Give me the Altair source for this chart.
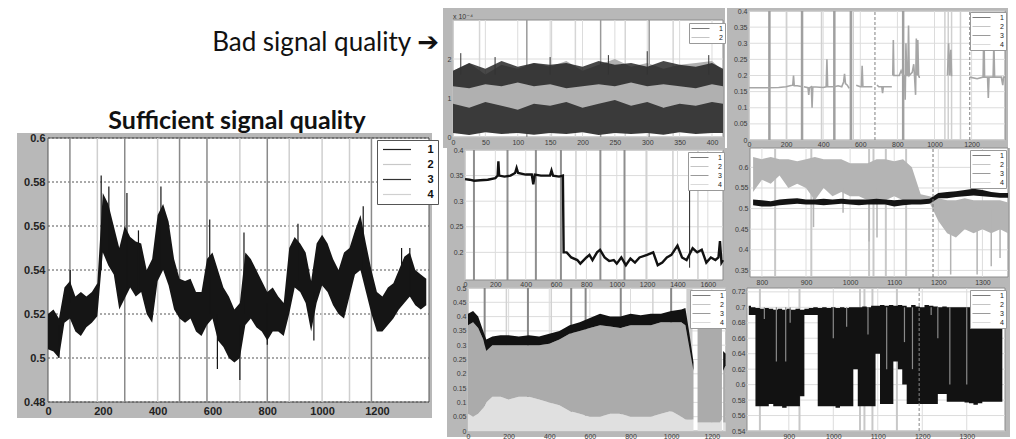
import altair as alt
import pandas as pd

AX_FONT = "Liberation Sans, Arial, DejaVu Sans"
TXT_FONT = "Lato, Open Sans, DejaVu Sans"
FRAME = "#b8b8b8"

# ================= DATA =================
# ---- Left panel: sufficient signal quality ----
L_X = list(range(0, 1381, 20))
L_LO = [0.504, 0.503, 0.500, 0.516, 0.518, 0.512, 0.510, 0.514, 0.516, 0.519,
        0.548, 0.542, 0.538, 0.522, 0.527, 0.532, 0.528, 0.530, 0.520, 0.516,
        0.535, 0.540, 0.533, 0.522, 0.518, 0.516, 0.518, 0.512, 0.510, 0.515,
        0.518, 0.508, 0.505, 0.500, 0.498, 0.500, 0.515, 0.518, 0.514, 0.512,
        0.508, 0.512, 0.512, 0.510, 0.520, 0.532, 0.530, 0.525, 0.512, 0.525,
        0.533, 0.530, 0.524, 0.520, 0.518, 0.528, 0.538, 0.540, 0.530, 0.520,
        0.512, 0.512, 0.515, 0.518, 0.522, 0.525, 0.528, 0.524, 0.522, 0.524]
L_HI = [0.520, 0.522, 0.518, 0.532, 0.535, 0.528, 0.530, 0.528, 0.530, 0.534,
        0.575, 0.570, 0.560, 0.550, 0.560, 0.555, 0.553, 0.552, 0.540, 0.545,
        0.565, 0.570, 0.562, 0.545, 0.536, 0.535, 0.536, 0.530, 0.530, 0.545,
        0.548, 0.540, 0.532, 0.528, 0.522, 0.525, 0.548, 0.545, 0.540, 0.535,
        0.530, 0.532, 0.528, 0.525, 0.550, 0.555, 0.552, 0.548, 0.535, 0.552,
        0.556, 0.552, 0.545, 0.540, 0.548, 0.550, 0.558, 0.565, 0.552, 0.540,
        0.530, 0.528, 0.532, 0.534, 0.540, 0.546, 0.548, 0.540, 0.538, 0.536]
L_SPK_X = [40, 81, 194, 222, 288, 330, 412, 590, 618, 700, 715, 800, 912, 970, 1150, 1290, 1320]
L_SPK_LO = [0.500, 0.525, 0.540, 0.545, 0.530, 0.530, 0.540, 0.520, 0.495, 0.490, 0.520, 0.506,
            0.535, 0.508, 0.540, 0.525, 0.528]
L_SPK_HI = [0.515, 0.540, 0.583, 0.578, 0.575, 0.558, 0.578, 0.563, 0.520, 0.515, 0.557, 0.525,
            0.561, 0.530, 0.569, 0.550, 0.550]
L_EV_DARK = [80, 280, 480, 580, 800, 1180]
L_EV_LIGHT = [180, 400, 700, 880, 1000, 1100]
L_XTICKS = [0, 200, 400, 600, 800, 1000, 1200]
L_YTICKS = [0.48, 0.5, 0.52, 0.54, 0.56, 0.58, 0.6]

# ---- P1 (x 10^-4) ----
P1_X = [0, 25, 50, 75, 100, 125, 150, 175, 200, 225, 250, 275, 300, 325, 350, 375, 400, 417]
P1_DARK_LO = [0.1, 0.05, 0.12, 0.08, 0.1, 0.06, 0.1, 0.08, 0.12, 0.05, 0.1, 0.08, 0.1, 0.06, 0.12, 0.08, 0.1, 0.1]
P1_DARK_HI = [0.85, 0.75, 0.9, 0.8, 0.7, 0.85, 0.8, 0.9, 0.75, 0.85, 0.95, 0.8, 0.9, 0.75, 0.85, 0.8, 0.9, 0.85]
P1_LIGHT_LO = [0.6, 0.7, 0.55, 0.75, 0.65, 0.7, 0.6, 0.75, 0.7, 0.65, 0.8, 0.7, 0.6, 0.75, 0.7, 0.65, 0.7, 0.75]
P1_LIGHT_HI = [1.7, 1.9, 1.6, 1.85, 1.75, 1.9, 1.8, 1.95, 1.7, 1.85, 2.0, 1.8, 1.9, 1.75, 1.85, 1.9, 1.95, 1.7]
P1_BLACK_LO = [1.3, 1.25, 1.35, 1.3, 1.4, 1.3, 1.35, 1.25, 1.3, 1.35, 1.3, 1.4, 1.3, 1.35, 1.3, 1.25, 1.35, 1.3]
P1_BLACK_HI = [1.7, 1.9, 1.75, 1.95, 1.8, 1.9, 1.85, 1.9, 1.8, 1.95, 1.85, 1.9, 1.8, 1.95, 1.85, 1.8, 1.9, 1.75]
P1_SPK_X = [12, 65, 150, 240, 300, 395]
P1_SPK_LO = [1.6, 1.6, 1.6, 1.6, 1.6, 1.6]
P1_SPK_HI = [2.15, 2.05, 2.05, 2.1, 2.2, 2.1]
P1_EV_DARK = [114, 228, 303]
P1_EV_LIGHT = [41, 152, 189, 266, 340]
P1_XTICKS = [0, 50, 100, 150, 200, 250, 300, 350, 400]
P1_YTICKS = [0, 1, 2]

# ---- P2 ----
P2_SEG = (["a"] * 10 + ["b"] * 19 + ["c"] * 6 + ["d"] * 6 + ["e"] * 24 + ["f"] * 6 + ["g"] * 15)
P2_X = [0, 100, 160, 200, 220, 236, 240, 244, 260, 288,
        296, 318, 322, 326, 336, 340, 344, 400, 416, 420, 424, 460, 480, 500, 510, 515, 520, 530, 540,
        578, 600, 606, 610, 614, 665,
        690, 700, 716, 720, 724, 770,
        775, 778, 781, 784, 810, 820, 830, 838, 842, 846, 850, 856, 860, 864, 880, 888, 892, 898, 902,
        906, 910, 914, 918, 922,
        1070, 1076, 1082, 1088, 1092, 1096,
        1190, 1230, 1262, 1266, 1270, 1286, 1290, 1294, 1316, 1320, 1324, 1360, 1368, 1372, 1380]
P2_Y = [0.162, 0.162, 0.163, 0.165, 0.168, 0.17, 0.2, 0.168, 0.168, 0.165,
        0.165, 0.162, 0.14, 0.162, 0.165, 0.1, 0.165, 0.163, 0.165, 0.25, 0.165, 0.165, 0.168, 0.165,
        0.18, 0.205, 0.175, 0.17, 0.16,
        0.17, 0.165, 0.165, 0.23, 0.165, 0.165,
        0.17, 0.165, 0.165, 0.145, 0.165, 0.165,
        0.2, 0.31, 0.2, 0.2, 0.2, 0.215, 0.2, 0.2, 0.125, 0.3, 0.2, 0.2, 0.355, 0.2, 0.21, 0.235, 0.2,
        0.14, 0.315, 0.2, 0.31, 0.2, 0.195, 0.195,
        0.2, 0.3, 0.2, 0.28, 0.2, 0.2,
        0.195, 0.19, 0.195, 0.36, 0.195, 0.195, 0.13, 0.195, 0.195, 0.3, 0.195, 0.195, 0.17, 0.195, 0.195]
P2_EV_DARK = [110, 286, 460, 549, 831]
P2_EV_LIGHT = [203, 391, 562, 1056, 1074, 1092, 1140]
P2_EV_DASH = [679, 1190]
P2_XTICKS = [0, 200, 400, 600, 800, 1000, 1200]
P2_YTICKS = [0, 0.05, 0.1, 0.15, 0.2, 0.25, 0.3, 0.35, 0.4]

# ---- P3 ----
P3_X = [0, 30, 60, 100, 150, 200, 215, 220, 225, 260, 300, 330, 340, 350, 400, 440, 450, 460, 500,
        560, 570, 580, 620, 645, 650, 670, 700, 740, 760, 800, 820, 840, 870, 890, 920, 950, 980,
        1000, 1030, 1060, 1090, 1120, 1150, 1200, 1240, 1270, 1300, 1330, 1360, 1400, 1430, 1460,
        1500, 1530, 1560, 1590, 1620, 1650, 1670, 1680, 1690, 1700]
P3_Y = [0.343, 0.342, 0.34, 0.341, 0.342, 0.345, 0.35, 0.378, 0.35, 0.348, 0.35, 0.355, 0.365,
        0.355, 0.352, 0.352, 0.333, 0.352, 0.35, 0.35, 0.36, 0.35, 0.348, 0.35, 0.2, 0.2, 0.19,
        0.185, 0.178, 0.19, 0.195, 0.185, 0.2, 0.205, 0.19, 0.183, 0.185, 0.178, 0.19, 0.175, 0.188,
        0.18, 0.19, 0.195, 0.2, 0.175, 0.18, 0.19, 0.195, 0.213, 0.19, 0.185, 0.208, 0.2, 0.205,
        0.18, 0.19, 0.185, 0.19, 0.222, 0.18, 0.185]
P3_EV_DARK = [59, 280, 467, 632, 892, 1051]
P3_EV_LIGHT = [731, 1194, 1370, 1535]
P3_SPK_X = [1480]
P3_SPK_LO = [0.17]
P3_SPK_HI = [0.34]
P3_XTICKS = [0, 200, 400, 600, 800, 1000, 1200, 1400, 1600]
P3_YTICKS = [0.2, 0.25, 0.3, 0.35, 0.4]

# ---- P4 ----
P4_X = [780, 800, 820, 840, 860, 880, 900, 920, 940, 960, 980, 1000, 1020, 1040, 1060, 1080, 1100,
        1120, 1140, 1160, 1180, 1200, 1220, 1240, 1260, 1280, 1300, 1320, 1340, 1358]
P4_GRAY_LO = [0.54, 0.57, 0.56, 0.58, 0.55, 0.56, 0.55, 0.52, 0.55, 0.53, 0.54, 0.53, 0.53, 0.52,
              0.52, 0.52, 0.53, 0.52, 0.52, 0.515, 0.515, 0.47, 0.44, 0.43, 0.45, 0.44, 0.45, 0.44,
              0.45, 0.44]
P4_GRAY_HI = [0.625, 0.62, 0.625, 0.62, 0.62, 0.615, 0.62, 0.625, 0.62, 0.62, 0.62, 0.61, 0.61,
              0.61, 0.62, 0.62, 0.615, 0.62, 0.6, 0.535, 0.53, 0.525, 0.52, 0.52, 0.525, 0.52, 0.52,
              0.52, 0.52, 0.515]
P4_BLACK_LO = [0.508, 0.505, 0.505, 0.508, 0.51, 0.512, 0.51, 0.51, 0.508, 0.51, 0.512, 0.51, 0.508,
               0.51, 0.51, 0.51, 0.505, 0.508, 0.51, 0.51, 0.512, 0.525, 0.525, 0.528, 0.53, 0.532,
               0.53, 0.528, 0.526, 0.526]
P4_BLACK_HI = [0.522, 0.52, 0.518, 0.522, 0.524, 0.525, 0.522, 0.522, 0.524, 0.522, 0.524, 0.522,
               0.522, 0.522, 0.524, 0.522, 0.52, 0.522, 0.522, 0.522, 0.524, 0.538, 0.54, 0.542,
               0.545, 0.548, 0.545, 0.54, 0.538, 0.538]
P4_DIP_X = [917, 984, 1043, 1061, 1228, 1288, 1320, 1340]
P4_DIP_TOP = [0.55, 0.55, 0.55, 0.55, 0.5, 0.5, 0.5, 0.5]
P4_DIP_BOT = [0.455, 0.49, 0.42, 0.43, 0.34, 0.34, 0.36, 0.38]
P4_EV_LIGHT = [830, 912, 1043, 1053, 1081, 1127]
P4_EV_DASH = [1188]
P4_XTICKS = [800, 900, 1000, 1100, 1200, 1300]
P4_YTICKS = [0.35, 0.4, 0.45, 0.5, 0.55, 0.6]

# ---- P5 ----
P5_SEG = ["a"] * 28 + ["b"] * 5 + ["c"] * 2
P5_X = [0, 25, 50, 75, 90, 120, 160, 200, 250, 300, 350, 400, 450, 500, 550, 600, 650, 700, 750,
        800, 850, 900, 950, 1000, 1050, 1070, 1090, 1110,
        1130, 1160, 1200, 1240, 1250,
        1256, 1268]
P5_BLACK_LO = [0.37, 0.38, 0.36, 0.32, 0.28, 0.30, 0.30, 0.30, 0.30, 0.30, 0.30, 0.305, 0.32, 0.34,
               0.35, 0.36, 0.37, 0.365, 0.36, 0.37, 0.37, 0.37, 0.38, 0.38, 0.38, 0.37, 0.29, 0.21,
               0.39, 0.395, 0.395, 0.40, 0.40,
               0.21, 0.23]
P5_BLACK_HI = [0.41, 0.42, 0.40, 0.35, 0.32, 0.33, 0.335, 0.335, 0.33, 0.335, 0.33, 0.34, 0.35, 0.37,
               0.38, 0.395, 0.41, 0.40, 0.40, 0.41, 0.405, 0.41, 0.41, 0.42, 0.425, 0.43, 0.34, 0.24,
               0.43, 0.44, 0.43, 0.44, 0.43,
               0.28, 0.27]
P5_GRAY_LO = [0.06, 0.05, 0.06, 0.08, 0.1, 0.12, 0.12, 0.11, 0.12, 0.12, 0.11, 0.10, 0.09, 0.07,
              0.06, 0.05, 0.05, 0.06, 0.06, 0.05, 0.05, 0.05, 0.06, 0.07, 0.05, 0.04, 0.04, 0.04,
              0.03, 0.03, 0.03, 0.03, 0.04,
              0.03, 0.03]
P5_BAND = [1075, 1105]
P5_EV_DARK = [82, 295, 508, 579, 752, 1000]
P5_EV_LIGHT = [189, 410, 910]
P5_XTICKS = [0, 200, 400, 600, 800, 1000, 1200]
P5_YTICKS = [0, 0.05, 0.1, 0.15, 0.2, 0.25, 0.3, 0.35, 0.4, 0.45, 0.5]

# ---- P6 ----
P6_X = list(range(810, 1381, 10))
P6_LO = [0.69, 0.69, 0.572, 0.572, 0.572, 0.575, 0.572, 0.572, 0.57, 0.572,
         0.572, 0.572, 0.585, 0.69, 0.69, 0.69, 0.572, 0.572, 0.572, 0.572,
         0.57, 0.572, 0.572, 0.572, 0.62, 0.572, 0.572, 0.572, 0.572, 0.64,
         0.575, 0.575, 0.575, 0.63, 0.62, 0.60, 0.575, 0.575, 0.575, 0.575,
         0.575, 0.575, 0.575, 0.588, 0.588, 0.578, 0.578, 0.578, 0.578, 0.577,
         0.576, 0.574, 0.576, 0.578, 0.578, 0.578, 0.578, 0.578]
P6_HI = [0.702, 0.70, 0.699, 0.698, 0.699, 0.698, 0.697, 0.698, 0.697, 0.698,
         0.697, 0.698, 0.697, 0.698, 0.699, 0.70, 0.699, 0.70, 0.699, 0.70,
         0.699, 0.70, 0.699, 0.70, 0.70, 0.70, 0.701, 0.70, 0.702, 0.702,
         0.703, 0.702, 0.703, 0.702, 0.703, 0.702, 0.70, 0.703, 0.701, 0.70,
         0.703, 0.702, 0.701, 0.70, 0.701, 0.70, 0.70, 0.70, 0.70, 0.70,
         0.70, 0.70, 0.70, 0.70, 0.70, 0.70, 0.70, 0.70]
P6_STREAK_X = [845, 872, 893, 903, 1000, 1030, 1078, 1120, 1160, 1178, 1220, 1235, 1262, 1300]
P6_STREAK_LO = [0.685, 0.63, 0.63, 0.68, 0.66, 0.675, 0.665, 0.62, 0.655, 0.62, 0.69, 0.66, 0.6, 0.6]
P6_STREAK_HI = [0.70] * 14
P6_EV_LIGHT = [835, 924, 1060, 1070, 1088, 1143]
P6_EV_DASH = [1193]
P6_XTICKS = [900, 1000, 1100, 1200, 1300]
P6_YTICKS = [0.54, 0.56, 0.58, 0.6, 0.62, 0.64, 0.66, 0.68, 0.7, 0.72]

SERIES4 = ["1", "2", "3", "4"]
SERIES2 = ["1", "2"]

# ================= HELPERS =================
RIGHT_STYLE = dict(fs=7, fw="normal", lc="#3a3a3a", xpad=1, ypad=2, box="#8c8c8c",
                   hgc="#dcdcdc", hgd=None, vgrid=True)
LEFT_STYLE = dict(fs=11, fw="bold", lc="#222222", xpad=3, ypad=3, box="#555555",
                  hgc="#555555", hgd=[2, 2], vgrid=False)


def make_panel(cw, ch, gbox, xr, yr, xdom, ydom, xticks, yticks, st, leg, draw, xpad=None):
    xs = alt.Scale(domain=xdom, range=xr, nice=False, zero=False)
    ys = alt.Scale(domain=ydom, range=yr, nice=False, zero=False)
    common = dict(labelFont=AX_FONT, labelFontSize=st["fs"], labelFontWeight=st["fw"],
                  labelColor=st["lc"], tickSize=0, domain=False, grid=False, zindex=1,
                  labelOverlap=False, labelFlush=False)
    xaxis = alt.Axis(values=xticks, format="d",
                     labelPadding=st["xpad"] if xpad is None else xpad,
                     offset=-(ch - yr[0]), **common)
    yaxis = alt.Axis(values=yticks, format="~g", labelPadding=st["ypad"],
                     offset=-xr[0], **common)

    def X(f):
        return alt.X(f + ":Q", scale=xs, axis=xaxis, title=None)

    def Y(f):
        return alt.Y(f + ":Q", scale=ys, axis=yaxis, title=None)

    def vrules(xs_list, color, width, dash=None):
        d = pd.DataFrame({"x": xs_list, "y0": ydom[0], "y1": ydom[1]})
        kw = dict(color=color, strokeWidth=width)
        if dash:
            kw["strokeDash"] = dash
        return alt.Chart(d).mark_rule(**kw).encode(x=X("x"), y=Y("y0"), y2=alt.Y2("y1"))

    one = pd.DataFrame({"k": [0]})
    layers = [alt.Chart(one).mark_rect(color=FRAME).encode(
        x=alt.value(gbox[0]), x2=alt.value(gbox[1]), y=alt.value(gbox[2]), y2=alt.value(gbox[3]))]
    box = pd.DataFrame({"x0": [xdom[0]], "x1": [xdom[1]], "y0": [ydom[0]], "y1": [ydom[1]]})
    layers.append(alt.Chart(box).mark_rect(fill="white", stroke=st["box"], strokeWidth=1).encode(
        x=X("x0"), x2=alt.X2("x1"), y=Y("y0"), y2=alt.Y2("y1")))
    hg = pd.DataFrame({"y": yticks, "x0": xdom[0], "x1": xdom[1]})
    hkw = dict(color=st["hgc"], strokeWidth=1)
    if st["hgd"]:
        hkw["strokeDash"] = st["hgd"]
    layers.append(alt.Chart(hg).mark_rule(**hkw).encode(y=Y("y"), x=X("x0"), x2=alt.X2("x1")))
    if st["vgrid"]:
        layers.append(vrules(xticks, st["hgc"], 1))
    layers += draw(X, Y, vrules)
    lg = pd.DataFrame({"series": leg["names"]})
    half = leg["len"] / 2.0
    unit = (leg["size"] ** 0.5) / 2.0
    k = half / unit
    path = "M-%.3f,0H%.3f" % (k, k)
    layers.append(alt.Chart(lg).mark_point(opacity=0).encode(
        color=alt.Color("series:N",
                        scale=alt.Scale(domain=leg["names"], range=leg["colors"]),
                        legend=alt.Legend(orient="none", legendX=leg["x"], legendY=leg["y"],
                                          title=None, symbolType=path,
                                          symbolSize=leg["size"], symbolStrokeWidth=leg["sw"],
                                          symbolOffset=half - unit,
                                          labelFont=AX_FONT, labelFontSize=leg["fs"],
                                          labelFontWeight=leg["fw"], labelColor=leg["lc"],
                                          fillColor="white", strokeColor=leg["stroke"],
                                          padding=leg["pad"], rowPadding=leg["rp"],
                                          symbolOpacity=1,
                                          labelOffset=leg["len"] - 2 * unit + leg["gap"],
                                          cornerRadius=0))))
    return alt.layer(*layers).properties(width=cw, height=ch)


def right_leg(names, x, y):
    return dict(names=names, colors=["#7a7a7a", "#c4c4c4", "#9a9a9a", "#dadada"][:len(names)],
                x=x, y=y, len=18, size=36, sw=1, fs=7, fw="normal", lc="#222", stroke="#999",
                pad=2, rp=1, gap=3)


# ================= DRAW FUNCTIONS =================
def draw_left(X, Y, vrules):
    band = pd.DataFrame({"x": L_X, "lo": L_LO, "hi": L_HI})
    spk = pd.DataFrame({"x": L_SPK_X, "lo": L_SPK_LO, "hi": L_SPK_HI})
    return [
        vrules(L_EV_LIGHT, "#cfcfcf", 1.5),
        vrules(L_EV_DARK, "#8a8a8a", 1.5),
        alt.Chart(band).mark_area(color="#151515").encode(x=X("x"), y=Y("lo"), y2=alt.Y2("hi")),
        alt.Chart(spk).mark_rule(color="#151515", strokeWidth=1.2).encode(
            x=X("x"), y=Y("lo"), y2=alt.Y2("hi")),
    ]


def draw_p1(X, Y, vrules):
    d = pd.DataFrame({"x": P1_X, "dlo": P1_DARK_LO, "dhi": P1_DARK_HI, "llo": P1_LIGHT_LO,
                      "lhi": P1_LIGHT_HI, "blo": P1_BLACK_LO, "bhi": P1_BLACK_HI})
    spk = pd.DataFrame({"x": P1_SPK_X, "lo": P1_SPK_LO, "hi": P1_SPK_HI})
    txt = pd.DataFrame({"t": ["x 10\u207b\u2074"]})
    return [
        vrules(P1_EV_LIGHT, "#d6d6d6", 1.5),
        vrules(P1_EV_DARK, "#9a9a9a", 1.5),
        alt.Chart(d).mark_area(color="#b0b0b0").encode(x=X("x"), y=Y("llo"), y2=alt.Y2("lhi")),
        alt.Chart(d).mark_area(color="#3a3a3a").encode(x=X("x"), y=Y("dlo"), y2=alt.Y2("dhi")),
        alt.Chart(d).mark_area(color="#1a1a1a", opacity=0.8).encode(
            x=X("x"), y=Y("blo"), y2=alt.Y2("bhi")),
        alt.Chart(spk).mark_rule(color="#333", strokeWidth=1).encode(
            x=X("x"), y=Y("lo"), y2=alt.Y2("hi")),
        alt.Chart(txt).mark_text(align="left", font=AX_FONT, fontSize=7, color="#333").encode(
            x=alt.value(10), y=alt.value(17), text="t:N"),
    ]


def draw_p2(X, Y, vrules):
    d = pd.DataFrame({"seg": P2_SEG, "x": P2_X, "y": P2_Y})
    return [
        vrules(P2_EV_LIGHT, "#d0d0d0", 1.5),
        vrules(P2_EV_DARK, "#a0a0a0", 2.5),
        vrules(P2_EV_DASH, "#808080", 1, [3, 2]),
        alt.Chart(d).mark_line(color="#a6a6a6", strokeWidth=1.6).encode(
            x=X("x"), y=Y("y"), detail="seg:N"),
    ]


def draw_p3(X, Y, vrules):
    d = pd.DataFrame({"x": P3_X, "y": P3_Y})
    spk = pd.DataFrame({"x": P3_SPK_X, "lo": P3_SPK_LO, "hi": P3_SPK_HI})
    return [
        vrules(P3_EV_LIGHT, "#d0d0d0", 1.5),
        vrules(P3_EV_DARK, "#8e8e8e", 2),
        alt.Chart(spk).mark_rule(color="#222", strokeWidth=1).encode(
            x=X("x"), y=Y("lo"), y2=alt.Y2("hi")),
        alt.Chart(d).mark_line(color="#111", strokeWidth=2.4).encode(x=X("x"), y=Y("y")),
    ]


def draw_p4(X, Y, vrules):
    d = pd.DataFrame({"x": P4_X, "glo": P4_GRAY_LO, "ghi": P4_GRAY_HI,
                      "blo": P4_BLACK_LO, "bhi": P4_BLACK_HI})
    dip = pd.DataFrame({"x": P4_DIP_X, "top": P4_DIP_TOP, "bot": P4_DIP_BOT})
    return [
        vrules(P4_EV_LIGHT, "#c8c8c8", 2),
        alt.Chart(d).mark_area(color="#b4b4b4").encode(x=X("x"), y=Y("glo"), y2=alt.Y2("ghi")),
        alt.Chart(dip).mark_rule(color="#b4b4b4", strokeWidth=1.5).encode(
            x=X("x"), y=Y("bot"), y2=alt.Y2("top")),
        alt.Chart(d).mark_area(color="#141414").encode(x=X("x"), y=Y("blo"), y2=alt.Y2("bhi")),
        vrules(P4_EV_DASH, "#777", 1, [3, 2]),
    ]


def draw_p5(X, Y, vrules):
    d = pd.DataFrame({"seg": P5_SEG, "x": P5_X, "blo": P5_BLACK_LO, "bhi": P5_BLACK_HI,
                      "glo": P5_GRAY_LO, "z": 0.0})
    band = pd.DataFrame({"x0": [P5_BAND[0]], "x1": [P5_BAND[1]], "y0": [0.0], "y1": [0.5]})
    return [
        alt.Chart(band).mark_rect(color="#cfcfcf").encode(
            x=X("x0"), x2=alt.X2("x1"), y=Y("y0"), y2=alt.Y2("y1")),
        vrules(P5_EV_LIGHT, "#d2d2d2", 1.5),
        vrules(P5_EV_DARK, "#888888", 2),
        alt.Chart(d).mark_area(color="#e0e0e0").encode(
            x=X("x"), y=Y("z"), y2=alt.Y2("glo"), detail="seg:N"),
        alt.Chart(d).mark_area(color="#ababab").encode(
            x=X("x"), y=Y("glo"), y2=alt.Y2("blo"), detail="seg:N"),
        alt.Chart(d).mark_area(color="#121212").encode(
            x=X("x"), y=Y("blo"), y2=alt.Y2("bhi"), detail="seg:N"),
    ]


def draw_p6(X, Y, vrules):
    d = pd.DataFrame({"x": P6_X, "lo": P6_LO, "hi": P6_HI})
    st = pd.DataFrame({"x": P6_STREAK_X, "lo": P6_STREAK_LO, "hi": P6_STREAK_HI})
    return [
        vrules(P6_EV_LIGHT, "#c8c8c8", 2),
        alt.Chart(d).mark_area(color="#121212", interpolate="step").encode(
            x=X("x"), y=Y("lo"), y2=alt.Y2("hi")),
        alt.Chart(st).mark_rule(color="#8a8a8a", strokeWidth=1.2).encode(
            x=X("x"), y=Y("lo"), y2=alt.Y2("hi")),
        vrules(P6_EV_DASH, "#888", 1, [3, 2]),
    ]


# ================= PANELS =================
left_leg = dict(names=SERIES4, colors=["#222222", "#c8c8c8", "#333333", "#d0d0d0"],
                x=377, y=7, len=28, size=49, sw=1.2, fs=11, fw="bold", lc="#111", stroke="#555",
                pad=4, rp=3, gap=4)
left_panel = make_panel(440, 306, (17, 432, 0, 285), [48, 429], [269, 5], [0, 1390], [0.48, 0.6],
                        L_XTICKS, L_YTICKS, LEFT_STYLE, left_leg, draw_left)

p1 = make_panel(283, 148, (0, 282, 8, 148), [10, 280], [137, 20], [0, 417], [0, 3],
                P1_XTICKS, P1_YTICKS, RIGHT_STYLE, right_leg(SERIES2, 246, 23), draw_p1)
p2 = make_panel(290, 148, (1, 282, 8, 148), [23, 279], [140, 11], [0, 1380], [0, 0.4],
                P2_XTICKS, P2_YTICKS, RIGHT_STYLE, right_leg(SERIES4, 244, 12), draw_p2, xpad=0)
p3 = make_panel(283, 139, (4, 283, 0, 139), [22, 280], [132, 2], [0, 1700], [0.146, 0.4],
                P3_XTICKS, P3_YTICKS, RIGHT_STYLE, right_leg(SERIES4, 245, 4), draw_p3, xpad=0)
p4 = make_panel(290, 139, (0, 284, 0, 139), [24, 282], [129, 0], [773, 1358], [0.334, 0.647],
                P4_XTICKS, P4_YTICKS, RIGHT_STYLE, right_leg(SERIES4, 244, 2), draw_p4)
p5 = make_panel(283, 152, (4, 283, 0, 150), [25, 283], [144, 1], [0, 1270], [0, 0.5],
                P5_XTICKS, P5_YTICKS, RIGHT_STYLE, right_leg(SERIES4, 247, 3), draw_p5)
p6 = make_panel(290, 152, (0, 284, 0, 150), [21, 279], [144, 1], [806, 1386], [0.54, 0.725],
                P6_XTICKS, P6_YTICKS, RIGHT_STYLE, right_leg(SERIES4, 244, 3), draw_p6)

# header texts
t_bad = pd.DataFrame({"t": ["Bad signal quality \u2794"]})
t_suf = pd.DataFrame({"t": ["Sufficient signal quality"]})
header = alt.layer(
    alt.Chart(t_bad).mark_text(align="right", font=TXT_FONT, fontSize=26, color="#111").encode(
        x=alt.value(439), y=alt.value(43), text="t:N"),
    alt.Chart(t_suf).mark_text(align="center", font=TXT_FONT, fontSize=25, fontWeight="bold",
                               color="#111").encode(x=alt.value(237), y=alt.value(121), text="t:N"),
).properties(width=440, height=133)

left_col = alt.vconcat(header, left_panel, spacing=0, bounds="flush").resolve_scale(color="independent")
right = alt.concat(p1, p2, p3, p4, p5, p6, columns=2, spacing=0, bounds="flush",
                   align="each").resolve_scale(color="independent")

chart = (alt.hconcat(left_col, right, spacing=3)
         .resolve_scale(color="independent")
         .properties(padding=0, background="white")
         .configure_view(strokeWidth=0))

chart.save("out.html", embed_options={"renderer": "svg", "actions": False})
